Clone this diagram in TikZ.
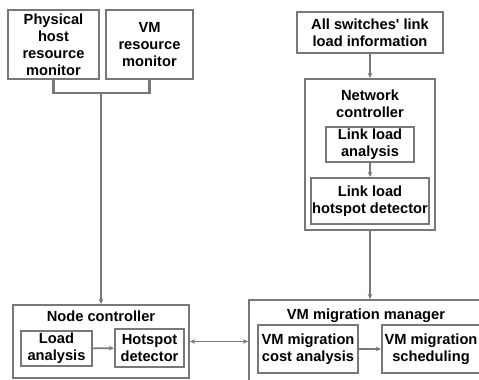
\documentclass[tikz,border=0pt]{standalone}
\usepackage{fontspec}
\setmainfont{Liberation Sans}
\usetikzlibrary{arrows.meta}
\def\u{0.75pt}
\definecolor{linegray}{RGB}{120,120,120}
\tikzstyle{box}=[draw=linegray,line width=1.4pt,inner sep=0pt,align=center,font=\bfseries\fontsize{11}{12.75}\selectfont]
\tikzstyle{title}=[inner sep=0pt,align=center,font=\bfseries\fontsize{11}{12.75}\selectfont]
\tikzstyle{link}=[draw=linegray,line width=1.6pt]
\tikzstyle{arr}=[link,-{Stealth[length=4pt,width=3.5pt]}]
\tikzstyle{arrs}=[draw=linegray,line width=1.2pt,-{Stealth[length=4pt,width=3.5pt]}]

\begin{document}
\begin{tikzpicture}[x=\u,y=-\u]
			\useasboundingbox (0,0) rectangle (479,379);
			\clip (0,0) rectangle (479,379);
			% monitors
			\node[box,minimum width=91*\u,minimum height=69*\u](phys) at (53.5,44.5){Physical\\host\\resource\\monitor};
			\node[box,minimum width=87*\u,minimum height=69*\u](vmmon) at (149.5,44.5){VM\\resource\\monitor};
			\coordinate(join) at (101,93);
			% node controller
			\node[box,minimum width=176*\u,minimum height=73*\u](nodectl) at (101,341.5){};
			\node[title](nodetitle) at (101,316){Node controller};
			\node[box,minimum width=71*\u,minimum height=35*\u](loadan) at (56.5,348.5){Load\\analysis};
			\node[box,minimum width=69*\u,minimum height=38*\u](hotspot) at (149.5,348){Hotspot\\detector};
			% network side
			\node[box,minimum width=146*\u,minimum height=41*\u](switches) at (370,32.5){All switches\textquotesingle{} link\\load information};
			\node[box,minimum width=130*\u,minimum height=151*\u](netctl) at (370,154.5){};
			\node[title](nettitle) at (370,103.5){Network\\controller};
			\node[box,minimum width=88*\u,minimum height=35*\u](linkan) at (370,144.5){Link load\\analysis};
			\node[box,minimum width=118*\u,minimum height=46*\u](linkhot) at (370,201){Link load\\hotspot detector};
			% migration manager
			\node[box,minimum width=251*\u,minimum height=100*\u](vmmgr) at (374.5,350){};
			\node[title](mgrtitle) at (366,316){VM migration manager};
			\node[box,minimum width=100*\u,minimum height=48*\u](cost) at (308,349){VM migration\\cost analysis};
			\node[box,minimum width=98*\u,minimum height=48*\u](sched) at (431,349){VM migration\\scheduling};
			% connectors
			\draw[link](phys.south)--(phys.south|-join)--(vmmon.south|-join)--(vmmon.south);
			\draw[arr](join)--(nodectl.north);
			\draw[arrs](loadan)--(hotspot);
			\draw[arrs,{Stealth[length=4pt,width=3.5pt]}-{Stealth[length=4pt,width=3.5pt]}](nodectl.east)--(nodectl.east-|vmmgr.west);
			\draw[arr](switches)--(netctl);
			\draw[arrs](linkan)--(linkhot);
			\draw[arr](netctl.south)--(netctl.south|-vmmgr.north);
			\draw[arrs](cost)--(sched);
		\end{tikzpicture}
\end{document}
